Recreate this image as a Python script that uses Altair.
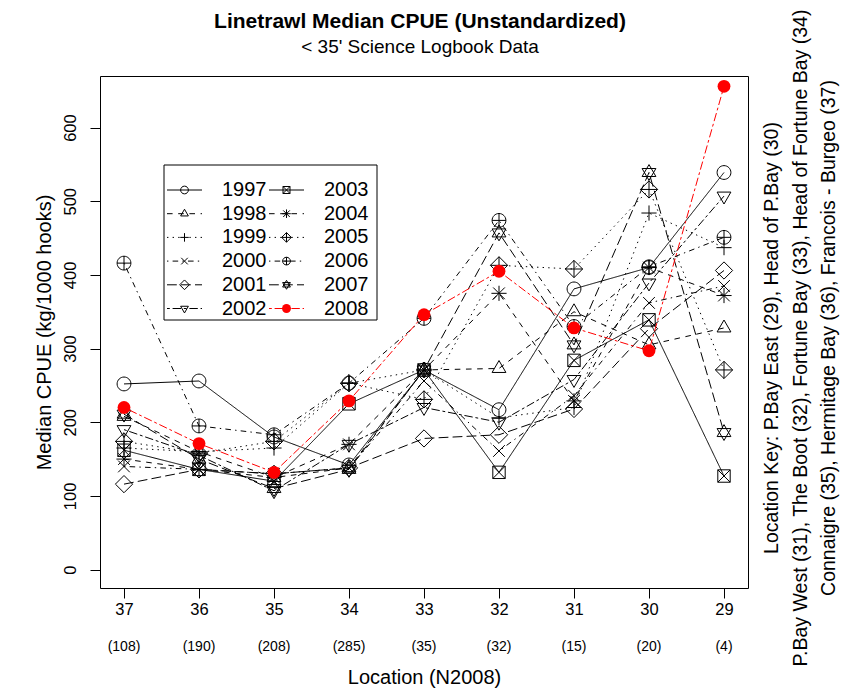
import json

import altair as alt
import pandas as pd

# ---- data -------------------------------------------------------------
LOCATIONS = ["37", "36", "35", "34", "33", "32", "31", "30", "29"]
N_2008 = ["(108)", "(190)", "(208)", "(285)", "(35)", "(32)", "(15)", "(20)", "(4)"]
YEARS = ["1997", "1998", "1999", "2000", "2001", "2002",
         "2003", "2004", "2005", "2006", "2007", "2008"]

# median CPUE (kg/1000 hooks) by location, in LOCATIONS order
CPUE_1997 = [252, 256, 180, 142, 271, 217, 381, 410, 539]
CPUE_1998 = [208, 160, 125, 138, 271, 273, 350, 305, 328]
CPUE_1999 = [165, 160, 165, 253, 271, 206, 220, 484, 437]
CPUE_2000 = [140, 136, 130, 138, 256, 161, 236, 362, 385]
CPUE_2001 = [116, 136, 130, 138, 178, 183, 218, 327, 406]
CPUE_2002 = [190, 155, 107, 170, 220, 200, 258, 389, 507]
CPUE_2003 = [162, 136, 120, 225, 271, 132, 284, 339, 127]
CPUE_2004 = [150, 136, 125, 170, 271, 375, 229, 410, 372]
CPUE_2005 = [174, 158, 174, 253, 231, 413, 408, 516, 271]
CPUE_2006 = [416, 195, 183, 253, 341, 474, 330, 411, 451]
CPUE_2007 = [211, 150, 110, 136, 271, 457, 305, 539, 186]
CPUE_2008 = [220, 171, 132, 229, 346, 405, 328, 297, 656]

SERIES = [CPUE_1997, CPUE_1998, CPUE_1999, CPUE_2000, CPUE_2001, CPUE_2002,
          CPUE_2003, CPUE_2004, CPUE_2005, CPUE_2006, CPUE_2007, CPUE_2008]

TITLE = "Linetrawl Median CPUE (Unstandardized)"
SUBTITLE = "< 35' Science Logbook Data"
KEY_LINES = [
    "Location Key: P.Bay East (29), Head of P.Bay (30)",
    "P.Bay West (31), The Boot (32), Fortune Bay (33), Head of Fortune Bay (34)",
    "Connaigre (35), Hermitage Bay (36), Francois - Burgeo (37)",
]

# ---- styles -----------------------------------------------------------
FONT = "Liberation Sans"
W, H = 648, 512

SOLID, DASHED, DOTTED = [1, 0], [5.6, 5.6], [1.4, 4.2]
DOTDASH, LONGDASH, TWODASH = [1.4, 4.2, 5.6, 4.2], [9.8, 4.2], [2.8, 2.8, 8.4, 2.8]
DASHES = [SOLID, DASHED, DOTTED, DOTDASH, LONGDASH, TWODASH] * 2

CIRCLE = "M-1,0A1,1,0,1,1,1,0A1,1,0,1,1,-1,0Z"
TRI_UP = "M0,-1.15L1,0.58L-1,0.58Z"
TRI_DN = "M0,1.15L1,-0.58L-1,-0.58Z"
PLUS = "M-1.1,0L1.1,0M0,-1.1L0,1.1"
CROSS = "M-0.85,-0.85L0.85,0.85M-0.85,0.85L0.85,-0.85"
DIAMOND = "M0,-1.25L1.25,0L0,1.25L-1.25,0Z"
SQUARE_X = "M-0.9,-0.9L0.9,-0.9L0.9,0.9L-0.9,0.9Z" + CROSS.replace("0.85", "0.9")
ASTERISK = PLUS + CROSS
DIAMOND_PLUS = DIAMOND + "M-1.25,0L1.25,0M0,-1.25L0,1.25"
CIRCLE_PLUS = CIRCLE + "M-1,0L1,0M0,-1L0,1"
STAR = TRI_UP + TRI_DN
SHAPES = [CIRCLE, TRI_UP, PLUS, CROSS, DIAMOND, TRI_DN,
          SQUARE_X, ASTERISK, DIAMOND_PLUS, CIRCLE_PLUS, STAR, CIRCLE]

# ---- tables -----------------------------------------------------------
long_rows = []
for yr, vals in zip(YEARS, SERIES):
    for i, v in enumerate(vals):
        long_rows.append({"year": yr, "pos": i, "cpue": v})
df = pd.DataFrame(long_rows)

counts_df = pd.DataFrame({"pos": list(range(len(LOCATIONS))), "n": N_2008})

# legend layout (pixels inside the plot area), two columns of six
LEG_LEFT, LEG_TOP, LEG_RIGHT, LEG_BOTTOM = 64, 89, 277, 244
ROW0, ROW_STEP, COL_STEP = 114, 23.7, 102
leg_rows = []
for i, yr in enumerate(YEARS):
    col, row = divmod(i, 6)
    x0 = 67 + col * COL_STEP
    leg_rows.append({"year": yr, "x1": x0, "x2": x0 + 35, "xm": x0 + 17.5,
                     "xt": x0 + 55, "y": ROW0 + row * ROW_STEP})
leg_df = pd.DataFrame(leg_rows)

key_df = pd.DataFrame({"t": KEY_LINES,
                       "kx": [W + 24 + 28.5 * k for k in range(len(KEY_LINES))]})

# ---- encodings --------------------------------------------------------
label_expr = json.dumps(LOCATIONS) + "[datum.value]"
x_enc = alt.X(
    "pos:Q",
    scale=alt.Scale(domain=[-0.32, 8.32], nice=False, zero=False),
    axis=alt.Axis(values=list(range(len(LOCATIONS))), labelExpr=label_expr,
                  title="Location (N2008)", titlePadding=50),
)
y_enc = alt.Y(
    "cpue:Q",
    scale=alt.Scale(domain=[-25, 670], nice=False, zero=False),
    axis=alt.Axis(values=[0, 100, 200, 300, 400, 500, 600],
                  title="Median CPUE (kg/1000 hooks)", labelAngle=270,
                  labelAlign="center", labelBaseline="bottom", labelPadding=12,
                  titlePadding=8),
)
dash_enc = alt.StrokeDash("year:N", scale=alt.Scale(domain=YEARS, range=DASHES),
                          legend=None)
shape_enc = alt.Shape("year:N", scale=alt.Scale(domain=YEARS, range=SHAPES),
                      legend=None)

base = alt.Chart(df).encode(x=x_enc, y=y_enc)
black = "datum.year != '2008'"
red = "datum.year == '2008'"

lines = base.mark_line(color="black", strokeWidth=1).encode(
    strokeDash=dash_enc).transform_filter(black)
points = base.mark_point(color="black", filled=False, strokeWidth=1, size=190,
                         opacity=1).encode(shape=shape_enc).transform_filter(black)
red_line = base.mark_line(color="#ff0000", strokeWidth=1).encode(
    strokeDash=dash_enc).transform_filter(red)
red_points = base.mark_point(color="#ff0000", filled=True, shape="circle",
                             size=165, opacity=1).transform_filter(red)

counts = alt.Chart(counts_df).mark_text(
    font=FONT, fontSize=14, baseline="middle", color="black"
).encode(x=x_enc, y=alt.value(H + 59), text="n:N")

# legend
px = lambda f: alt.X(f, scale=None, axis=None)
py = lambda f: alt.Y(f, scale=None, axis=None)
leg_box = alt.Chart(pd.DataFrame({"a": [0]})).mark_rect(
    fill="white", stroke="black", strokeWidth=1
).encode(x=alt.value(LEG_LEFT), x2=alt.value(LEG_RIGHT),
         y=alt.value(LEG_TOP), y2=alt.value(LEG_BOTTOM))
leg_base = alt.Chart(leg_df)
leg_lines_k = leg_base.mark_rule(color="black", strokeWidth=1).encode(
    x=px("x1:Q"), x2="x2:Q", y=py("y:Q"), strokeDash=dash_enc
).transform_filter(black)
leg_lines_r = leg_base.mark_rule(color="#ff0000", strokeWidth=1).encode(
    x=px("x1:Q"), x2="x2:Q", y=py("y:Q"), strokeDash=dash_enc
).transform_filter(red)
leg_pts_k = leg_base.mark_point(color="black", filled=False, strokeWidth=1,
                                size=60, opacity=1).encode(
    x=px("xm:Q"), y=py("y:Q"), shape=shape_enc).transform_filter(black)
leg_pts_r = leg_base.mark_point(color="#ff0000", filled=True, shape="circle",
                                size=80, opacity=1).encode(
    x=px("xm:Q"), y=py("y:Q")).transform_filter(red)
leg_text = leg_base.mark_text(font=FONT, fontSize=20, align="left",
                              baseline="middle", color="black").encode(
    x=px("xt:Q"), y=py("y:Q"), text="year:N")

# location key down the right-hand side
key_text = alt.Chart(key_df).mark_text(
    font=FONT, fontSize=19.5, angle=270, align="center", baseline="middle",
    color="black"
).encode(x=px("kx:Q"), y=alt.value(H / 2 + 6), text="t:N")

# title and subtitle above the plot
head = alt.Chart(pd.DataFrame({"a": [0]}))
title_mark = head.mark_text(
    font=FONT, fontSize=21, fontWeight="bold", align="center",
    baseline="middle", color="black", text=TITLE
).encode(x=alt.value(W / 2 - 4), y=alt.value(-54))
subtitle_mark = head.mark_text(
    font=FONT, fontSize=19, align="center", baseline="middle", color="black",
    text=SUBTITLE
).encode(x=alt.value(W / 2 - 4), y=alt.value(-29))

chart = alt.layer(
    lines, points, red_line, red_points, counts,
    leg_box, leg_lines_k, leg_lines_r, leg_pts_k, leg_pts_r, leg_text,
    key_text, title_mark, subtitle_mark,
).properties(
    width=W,
    height=H,
    autosize=alt.AutoSizeParams(type="none"),
    padding={"left": 100, "top": 76, "right": 93, "bottom": 102},
).configure(
    background="white",
).configure_view(
    stroke="black", strokeWidth=1,
).configure_axis(
    grid=False, domain=False, tickColor="black", tickSize=10, tickWidth=1,
    labelFont=FONT, labelFontSize=16.5, labelColor="black",
    titleFont=FONT, titleFontSize=20, titleFontWeight="normal",
    titleColor="black",
).configure_axisX(labelPadding=3)

chart.save("out.html", embed_options={"renderer": "svg", "actions": False})
